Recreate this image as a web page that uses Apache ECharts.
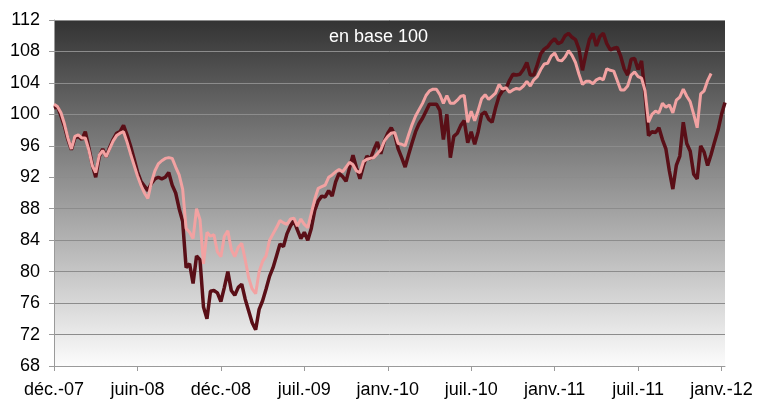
<!DOCTYPE html>
<html>
<head>
<meta charset="utf-8">
<script src="https://cdn.jsdelivr.net/npm/echarts@6/dist/echarts.min.js"></script>
<style>
html,body{margin:0;padding:0;background:#fff;}
#chart{width:757px;height:400px;}
</style>
</head>
<body>
<div id="chart"></div>
<script>
// Tick labels (one every 24 points)
const tickLabels = ['déc.-07','juin-08','déc.-08','juil.-09','janv.-10','juil.-10','janv.-11','juil.-11','janv.-12'];
const pointsPerTick = 24;

// Dark series (base 100)
const darkSeries = [
100.8,101.0,99.8,98.5,96.8,95.5,97.0,97.2,96.8,97.8,
95.8,93.6,92.0,94.6,95.6,94.6,95.8,96.8,97.6,97.8,
98.6,97.4,96.0,94.4,92.7,91.5,90.9,90.3,91.2,91.8,
92.0,91.8,92.0,92.6,91.0,90.0,88.0,86.4,80.5,81.0,
78.5,82.0,81.5,75.5,74.0,77.5,77.6,77.3,76.2,78.0,
80.0,77.6,77.0,78.0,78.4,76.5,75.0,73.5,72.6,75.2,
76.3,77.8,79.4,80.5,82.0,83.5,83.2,84.8,85.8,86.5,
85.3,84.2,85.0,84.0,85.5,87.8,89.0,89.6,89.5,90.3,
89.6,91.4,92.5,92.1,91.5,93.2,94.8,93.2,91.8,93.5,
94.7,94.3,95.5,96.5,95.0,96.6,97.6,98.3,97.4,95.6,
94.5,93.3,94.9,96.4,97.8,98.8,99.5,100.4,101.3,101.3,
101.3,100.5,96.8,100.0,94.5,97.2,97.6,98.6,99.2,96.4,
97.8,96.2,97.8,100.0,100.3,99.4,99.0,100.8,102.3,103.0,
103.3,104.3,105.1,105.0,105.1,105.7,106.6,105.0,105.0,106.3,
107.7,108.3,108.6,109.2,109.6,109.0,109.2,110.0,110.3,109.8,
109.5,108.3,105.6,107.7,109.5,110.3,108.7,109.9,110.3,109.0,
108.2,108.4,108.5,107.4,105.8,105.0,107.0,107.1,105.7,106.8,
102.5,97.3,97.8,97.7,98.3,96.8,95.6,92.8,90.5,93.5,
94.7,99.0,96.3,95.3,92.4,91.8,96.0,95.2,93.5,94.9,
96.5,98.0,100.0,101.5
];

// Pink series (base 100)
const pinkSeries = [
101.3,101.0,100.2,98.8,97.0,95.6,97.2,97.4,97.0,97.0,
95.5,93.5,92.6,94.8,95.4,94.6,95.6,96.6,97.3,97.6,
97.8,96.5,95.0,93.6,92.2,91.0,90.0,89.3,91.3,92.8,
93.7,94.1,94.4,94.5,94.4,93.3,92.3,90.5,85.5,85.0,
84.2,88.0,86.6,81.0,85.0,84.5,84.7,82.5,81.9,84.5,
85.2,82.8,81.9,83.1,83.6,81.5,79.2,77.8,77.2,80.0,
81.3,82.0,84.0,84.8,85.6,86.5,86.2,86.0,86.7,86.8,
85.8,86.7,86.0,85.6,87.4,89.2,90.6,90.8,91.0,92.0,
92.3,92.7,93.0,92.7,93.3,93.9,93.6,92.8,92.6,94.0,
94.3,94.4,94.5,95.0,95.5,96.6,97.2,97.6,97.7,96.3,
96.2,96.0,97.4,98.7,99.8,100.6,101.4,102.4,103.0,103.2,
103.2,102.5,101.4,102.4,101.4,101.4,101.8,102.3,102.4,99.0,
100.4,99.2,100.5,102.0,102.5,101.9,102.3,102.7,103.8,103.2,
103.4,102.8,103.1,103.3,103.2,103.6,104.2,103.6,104.4,104.8,
105.7,106.4,106.5,107.4,107.8,106.9,106.8,107.3,108.1,107.5,
106.6,105.1,103.8,104.2,104.2,103.9,104.4,104.6,104.4,105.8,
105.6,105.5,104.3,103.1,103.1,103.6,105.0,105.4,104.8,104.6,
103.0,99.0,100.0,100.4,100.2,101.4,100.9,101.2,100.2,101.8,
102.2,103.2,102.3,101.6,100.0,98.3,102.6,103.0,104.3,105.2
];

const categories = darkSeries.map((_, i) => i);

const chart = echarts.init(document.getElementById('chart'), null, {renderer: 'canvas'});
const font = "'Liberation Sans', Arial, sans-serif";

chart.setOption({
  animation: false,
  backgroundColor: '#ffffff',
  title: {
    text: 'en base 100',
    left: 'center',
    top: 23,
    textStyle: {color: '#ffffff', fontSize: 18, fontWeight: 'normal', fontFamily: font}
  },
  grid: {
    left: 54, right: 32, top: 20, bottom: 34,
    show: true,
    borderWidth: 0,
    backgroundColor: new echarts.graphic.LinearGradient(0, 0, 0, 1, [
      {offset: 0, color: '#333333'},
      {offset: 1, color: '#fcfcfc'}
    ])
  },
  xAxis: {
    type: 'category',
    data: categories,
    boundaryGap: false,
    axisLine: {lineStyle: {color: '#9a9a9a', width: 1}},
    axisTick: {show: true, interval: pointsPerTick - 1, length: 5, lineStyle: {color: '#9a9a9a'}},
    axisLabel: {
      interval: pointsPerTick - 1,
      margin: 15,
      color: '#000',
      fontSize: 18,
      fontFamily: font,
      formatter: (v, idx) => (idx % pointsPerTick === 0 ? (tickLabels[idx / pointsPerTick] || '') : '')
    },
    splitLine: {show: false}
  },
  yAxis: {
    type: 'value',
    min: 68, max: 112, interval: 4,
    axisLine: {show: true, lineStyle: {color: '#9a9a9a', width: 1}},
    axisTick: {show: true, length: 5, lineStyle: {color: '#9a9a9a'}},
    axisLabel: {margin: 14, color: '#000', fontSize: 18, fontFamily: font},
    splitLine: {show: true, lineStyle: {color: '#8c8c8c', width: 1}}
  },
  series: [
    {
      type: 'line',
      data: darkSeries,
      showSymbol: false,
      symbol: 'none',
      lineStyle: {color: '#5a0f17', width: 3.5},
      z: 2
    },
    {
      type: 'line',
      data: pinkSeries,
      showSymbol: false,
      symbol: 'none',
      lineStyle: {color: '#f2a2a2', width: 3},
      z: 3
    }
  ]
});
</script>
</body>
</html>
